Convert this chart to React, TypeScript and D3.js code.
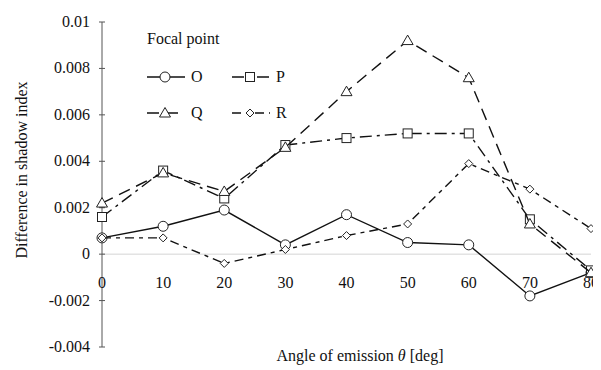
import React from "react";
import * as d3 from "d3";

const angles = [0, 10, 20, 30, 40, 50, 60, 70, 80];
const seriesO = [0.0007, 0.0012, 0.0019, 0.0004, 0.0017, 0.0005, 0.0004, -0.0018, -0.0008];
const seriesP = [0.0016, 0.0036, 0.0024, 0.0047, 0.005, 0.0052, 0.0052, 0.0015, -0.0007];
const seriesQ = [0.0022, 0.0035, 0.0027, 0.0046, 0.007, 0.0092, 0.0076, 0.0013, -0.0008];
const seriesR = [0.0007, 0.0007, -0.0004, 0.0002, 0.0008, 0.0013, 0.0039, 0.0028, 0.0011];
const yTicks = [-0.004, -0.002, 0, 0.002, 0.004, 0.006, 0.008, 0.01];
const yTickLabels = ["-0.004", "-0.002", "0", "0.002", "0.004", "0.006", "0.008", "0.01"];
const xTicks = [0, 10, 20, 30, 40, 50, 60, 70, 80];
const seriesNames = ["O", "P", "Q", "R"];

function Marker({ kind, x, y }: { kind: string; x: number; y: number }) {
  const st = { fill: "white", stroke: "#222", strokeWidth: 1 };
  if (kind === "O") return <circle cx={x} cy={y} r={5} {...st} />;
  if (kind === "P") return <rect x={x - 4.5} y={y - 4.5} width={9} height={9} {...st} />;
  if (kind === "Q")
    return <path d={`M${x},${y - 5.5}L${x + 5.5},${y + 4}L${x - 5.5},${y + 4}Z`} {...st} />;
  return <path d={`M${x},${y - 4}L${x + 4},${y}L${x},${y + 4}L${x - 4},${y}Z`} {...st} />;
}

function T(props: any) {
  const { children, size, ...rest } = props;
  return (
    <text
      {...rest}
      fontFamily="Liberation Serif"
      fontSize={size || 16}
      fill="#111"
      style={{ fontFamily: '"Liberation Serif", monospace', fontSize: size || 16 }}
    >
      {children}
    </text>
  );
}

export default function App() {
  const x = d3.scaleLinear().domain([0, 80]).range([102, 591]);
  const y = d3.scaleLinear().domain([-0.004, 0.01]).range([347, 22]);
  const data = [seriesO, seriesP, seriesQ, seriesR];
  const dashes = ["", "12,5,3,5", "12,7", "9,5,4,5"];
  const line = d3
    .line<number>()
    .x((_, i) => x(angles[i]))
    .y((d) => y(d));

  const legendPos = [
    { x: 147, y: 77 },
    { x: 232, y: 77 },
    { x: 147, y: 113 },
    { x: 232, y: 113 },
  ];

  return (
    <svg
      width={593}
      height={362}
      viewBox="8 8 593 362"
      fontFamily="Liberation Serif"
      style={{ display: "block" }}
    >
      <rect x={0} y={0} width={610} height={380} fill="white" />
      <line x1={x(0)} x2={x(80)} y1={y(0)} y2={y(0)} stroke="#d4d4d4" strokeWidth={1} />
      <line x1={x(0)} x2={x(0)} y1={y(0.01)} y2={y(-0.004)} stroke="#555" strokeWidth={1} />
      {yTicks.map((t, i) => (
        <g key={i}>
          <line x1={x(0) - 3} x2={x(0) + 3} y1={y(t)} y2={y(t)} stroke="#555" />
          <T x={90} y={y(t) + 5} textAnchor="end">
            {yTickLabels[i]}
          </T>
        </g>
      ))}
      {xTicks.map((t) => (
        <T key={t} x={x(t)} y={288} textAnchor="middle">
          {t}
        </T>
      ))}
      {data.map((s, k) => (
        <g key={k}>
          <path
            d={line(s) || ""}
            fill="none"
            stroke="#111"
            strokeWidth={1.4}
            strokeDasharray={dashes[k] || undefined}
          />
          {s.map((v, i) => (
            <Marker key={i} kind={seriesNames[k]} x={x(angles[i])} y={y(v)} />
          ))}
        </g>
      ))}
      <T x={147} y={44}>
        Focal point
      </T>
      {seriesNames.map((n, k) => (
        <g key={n}>
          <line
            x1={legendPos[k].x}
            x2={legendPos[k].x + 38}
            y1={legendPos[k].y}
            y2={legendPos[k].y}
            stroke="#111"
            strokeWidth={1.4}
            strokeDasharray={dashes[k] || undefined}
          />
          <Marker kind={n} x={legendPos[k].x + 18} y={legendPos[k].y} />
          <T x={legendPos[k].x + 44} y={legendPos[k].y + 5}>
            {n}
          </T>
        </g>
      ))}
      <T x={360} y={361} textAnchor="middle">
        Angle of emission <tspan fontStyle="italic">θ</tspan> [deg]
      </T>
      <T transform={`translate(27,170) rotate(-90)`} textAnchor="middle">
        Difference in shadow index
      </T>
    </svg>
  );
}
